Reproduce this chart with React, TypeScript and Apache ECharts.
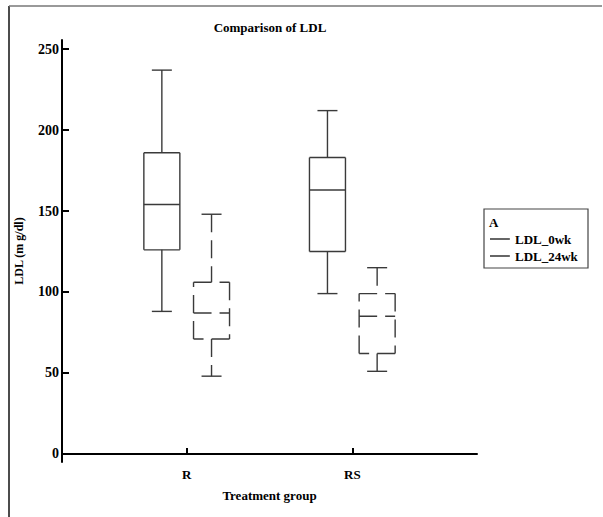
import React, { useEffect, useRef } from "react";
import * as echarts from "echarts";

const categories = ["R", "RS"];
// [min, Q1, median, Q3, max]
const ldl0wk = [
  [88, 126, 154, 186, 237],
  [99, 125, 163, 183, 212],
];
const ldl24wk = [
  [48, 71, 87, 106, 148],
  [51, 62, 85, 99, 115],
];
const yTicks = [0, 50, 100, 150, 200, 250];
const seriesNames = ["LDL_0wk", "LDL_24wk"];

const FONT = '"Liberation Serif", "DejaVu Serif", serif';

function makeRender(dashed: boolean) {
  return (params: any, api: any) => {
    const x = api.value(0);
    const ys = [1, 2, 3, 4, 5].map((i) => api.coord([x, api.value(i)]));
    const cx = ys[0][0];
    const [yMin, yQ1, yMed, yQ3, yMax] = ys.map((p: number[]) => p[1]);
    const hw = 18;
    const cw = 10;
    const style = {
      stroke: "#3a3a3a",
      lineWidth: 1.4,
      lineDash: dashed ? [18, 8] : null,
      fill: null,
    };
    const solid = { stroke: "#3a3a3a", lineWidth: 1.4, fill: null };
    const line = (x1: number, y1: number, x2: number, y2: number, st: any) => ({
      type: "line",
      shape: { x1, y1, x2, y2 },
      style: st,
    });
    return {
      type: "group",
      children: [
        line(cx - cw, yMax, cx + cw, yMax, solid),
        line(cx, yMax, cx, yQ3, style),
        line(cx - hw, yQ3, cx + hw, yQ3, style),
        line(cx + hw, yQ3, cx + hw, yQ1, style),
        line(cx + hw, yQ1, cx - hw, yQ1, style),
        line(cx - hw, yQ1, cx - hw, yQ3, style),
        line(cx - hw, yMed, cx + hw, yMed, style),
        line(cx, yQ1, cx, yMin, style),
        line(cx - cw, yMin, cx + cw, yMin, solid),
      ],
    };
  };
}

export default function App() {
  const ref = useRef<HTMLDivElement>(null);
  useEffect(() => {
    if (!ref.current) return;
    const chart = echarts.init(ref.current, null, { renderer: "svg" });
    const offset = 0.15;
    const data0 = ldl0wk.map((d, i) => [i + 1 - offset, ...d]);
    const data24 = ldl24wk.map((d, i) => [i + 1 + offset, ...d]);
    const textStyleBold = { fontFamily: FONT, fontWeight: "bold", color: "#000" };
    chart.setOption({
      animation: false,
      backgroundColor: "#fff",
      grid: { left: 62, right: 126, top: 40, bottom: 55 },
      xAxis: {
        type: "value",
        min: 0.247,
        max: 2.753,
        name: "Treatment group",
        nameLocation: "middle",
        nameGap: 27,
        nameTextStyle: { ...textStyleBold, fontSize: 13 },
        axisLine: { show: true, lineStyle: { color: "#000", width: 2 } },
        axisTick: {
          show: true,
          inside: true,
          length: 6,
          customValues: [1, 2],
          lineStyle: { color: "#000", width: 2 },
        },
        axisLabel: {
          customValues: [1, 2],
          formatter: (v: number) => categories[Math.round(v) - 1] ?? "",
          ...textStyleBold,
          fontSize: 13,
          margin: 6,
        },
        splitLine: { show: false },
      },
      yAxis: {
        type: "value",
        min: -5,
        max: 255.6,
        name: "LDL (m g/dl)",
        nameLocation: "middle",
        nameRotate: 90,
        nameGap: 37,
        nameTextStyle: { ...textStyleBold, fontSize: 12 },
        axisLine: { show: true, lineStyle: { color: "#000", width: 2 } },
        axisTick: {
          show: true,
          inside: true,
          length: 7,
          customValues: yTicks,
          lineStyle: { color: "#000", width: 2 },
        },
        axisLabel: {
          customValues: yTicks,
          ...textStyleBold,
          fontSize: 14,
          margin: 3,
        },
        splitLine: { show: false },
      },
      series: [
        {
          name: seriesNames[0],
          type: "custom",
          renderItem: makeRender(false),
          encode: { x: 0, y: [1, 2, 3, 4, 5] },
          data: data0,
        },
        {
          name: seriesNames[1],
          type: "custom",
          renderItem: makeRender(true),
          encode: { x: 0, y: [1, 2, 3, 4, 5] },
          data: data24,
        },
      ],
      graphic: [
        {
          type: "line",
          shape: { x1: 9, y1: 6, x2: 9, y2: 517 },
          style: { stroke: "#111", lineWidth: 1.5 },
        },
        {
          type: "line",
          shape: { x1: 9, y1: 6, x2: 602, y2: 6 },
          style: { stroke: "#777", lineWidth: 1.5 },
        },
        {
          type: "text",
          x: 270,
          y: 27,
          style: {
            text: "Comparison of LDL",
            font: `bold 13px ${FONT}`,
            fill: "#000",
            textAlign: "center",
            textVerticalAlign: "middle",
          },
        },
        {
          type: "rect",
          shape: { x: 484, y: 209, width: 104, height: 59 },
          style: { stroke: "#444", lineWidth: 1.2, fill: "#fff" },
        },
        {
          type: "text",
          x: 489,
          y: 222,
          style: {
            text: "A",
            font: `bold 13px ${FONT}`,
            fill: "#000",
            textVerticalAlign: "middle",
          },
        },
        {
          type: "line",
          shape: { x1: 490, y1: 239, x2: 510, y2: 239 },
          style: { stroke: "#000", lineWidth: 1.2 },
        },
        {
          type: "text",
          x: 515,
          y: 239,
          style: {
            text: seriesNames[0],
            font: `bold 13px ${FONT}`,
            fill: "#000",
            textVerticalAlign: "middle",
          },
        },
        {
          type: "line",
          shape: { x1: 490, y1: 256, x2: 510, y2: 256 },
          style: { stroke: "#000", lineWidth: 1.2 },
        },
        {
          type: "text",
          x: 515,
          y: 256,
          style: {
            text: seriesNames[1],
            font: `bold 13px ${FONT}`,
            fill: "#000",
            textVerticalAlign: "middle",
          },
        },
      ],
    });
    return () => chart.dispose();
  }, []);
  return (
    <div
      ref={ref}
      style={{ position: "fixed", left: 0, top: 0, width: 603, height: 517 }}
    />
  );
}
